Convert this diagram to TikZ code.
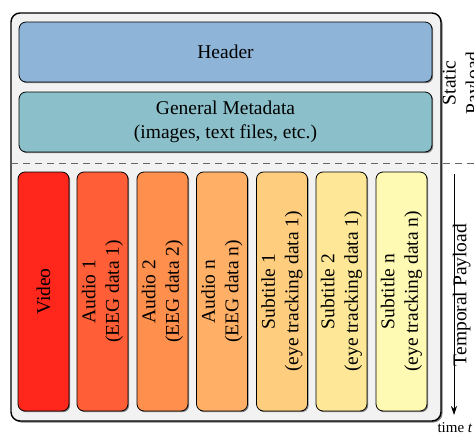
\documentclass[tikz,border=0pt]{standalone}
\usepackage{fontspec}
\setmainfont{Liberation Serif}
\usetikzlibrary{shadows,arrows.meta}
\definecolor{outerfill}{HTML}{F2F2F2}
\definecolor{headerc}{HTML}{8EB4D8}
\definecolor{metac}{HTML}{8BBFC9}
\definecolor{c1}{HTML}{FF261C}
\definecolor{c2}{HTML}{FF5E36}
\definecolor{c3}{HTML}{FF8F4C}
\definecolor{c4}{HTML}{FFB066}
\definecolor{c5}{HTML}{FECE7E}
\definecolor{c6}{HTML}{FEE897}
\definecolor{c7}{HTML}{FFFAB3}
\tikzset{
  shade box/.style={draw=black, line width=0.8pt, rounded corners=7pt,
    drop shadow={shadow xshift=1.2pt, shadow yshift=-1.2pt, fill=black, opacity=0.45}},
  wide box/.style={shade box, minimum width=413pt, minimum height=60pt, inner sep=0pt, align=center, font=\bigtext},
  colbox/.style={shade box, minimum width=51pt, minimum height=239pt, inner sep=0pt},
  coltext/.style={rotate=90, align=center, font=\bigtext},
  sidetext/.style={rotate=90, align=center, font=\bigtext},
}
\newcommand{\bigtext}{\fontsize{19.5}{23.4}\selectfont}
\begin{document}
\begin{tikzpicture}[x=1pt,y=-1pt]
\useasboundingbox (0,0) rectangle (474,434);
\node[draw=black, line width=1.4pt, fill=outerfill, rounded corners=9pt, minimum width=430pt, minimum height=408pt, inner sep=0pt,
  drop shadow={shadow xshift=1.5pt, shadow yshift=-1.5pt, fill=black, opacity=0.5}] (outer) at (226,217) {};
\node[wide box, fill=headerc] (header) at (225.5,52) {Header};
\node[wide box, fill=metac] (meta) at (225.5,122) {General Metadata\\(images, text files, etc.)};
\coordinate (dl) at (11,163);
\coordinate (dr) at (474,163);
\draw[dashed, dash pattern=on 7pt off 5pt, gray!80!black, line width=0.9pt] (dl) -- (dr);
\node[colbox, fill=c1] (video) at (43.5,291.5) {};
\node[colbox, fill=c2] (a1) at (102.5,291.5) {};
\node[colbox, fill=c3] (a2) at (162.5,291.5) {};
\node[colbox, fill=c4] (an) at (222,291.5) {};
\node[colbox, fill=c5] (s1) at (282,291.5) {};
\node[colbox, fill=c6] (s2) at (341.5,291.5) {};
\node[colbox, fill=c7] (sn) at (401.5,291.5) {};
\node[coltext] (tvideo) at (video) {Video};
\node[coltext] (ta1) at (a1) {Audio 1\\(EEG data 1)};
\node[coltext] (ta2) at (a2) {Audio 2\\(EEG data 2)};
\node[coltext] (tan) at (an) {Audio n\\(EEG data n)};
\node[coltext] (ts1) at (s1) {Subtitle 1\\(eye tracking data 1)};
\node[coltext] (ts2) at (s2) {Subtitle 2\\(eye tracking data 1)};
\node[coltext] (tsn) at (sn) {Subtitle n\\(eye tracking data n)};
\node[sidetext] (static) at (463,83) {Static\\Payload};
\node[sidetext, anchor=south] (temporal) at (474,295) {Temporal Payload};
\coordinate (ta) at (454,174);
\coordinate (tb) at (454,415);
\draw[-{Stealth[length=9pt,width=6pt]}, line width=0.8pt] (ta) -- (tb);
\node[font=\fontsize{15}{18}\selectfont, anchor=north] (time) at (455,419) {time \textit{t}};
\end{tikzpicture}
\end{document}
